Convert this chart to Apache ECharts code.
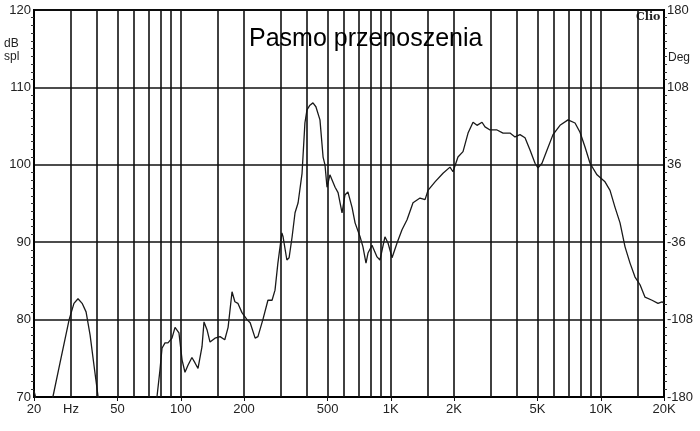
<!DOCTYPE html>
<html>
<head>
<meta charset="utf-8">
<script src="https://cdn.jsdelivr.net/npm/echarts@6/dist/echarts.min.js"></script>
<style>
  html, body { margin: 0; background: #fff; }
  #chart { width: 700px; height: 431px; }
</style>
</head>
<body>
<div id="chart"></div>
<script>
// frequency response (Hz, dB spl)
const freqHz = [
  20, 20.8, 22.5, 24.6, 26.6, 29.4, 31, 32.4, 33.9, 35.4, 37, 38.6, 40.4, 43, 60, 75,
  77, 79.6, 81.4, 84.1, 86.9, 90.8, 93.9, 95.9, 98, 101.4, 104.7, 108.2, 113, 116.9, 120.8,
  126.2, 129, 133.3, 137.8, 145.5, 153.8, 162, 168, 175.4, 181, 187, 195.6, 206.7, 214,
  226, 233, 246, 260, 272, 281, 290, 303, 307, 320, 328, 339, 350, 362, 378, 390, 399,
  412, 426, 440, 460, 476, 486, 497, 513, 543, 561, 586, 605, 625, 654, 676, 714, 737,
  762, 779, 814, 860, 888, 938, 970, 1014, 1071, 1131, 1195, 1276, 1378, 1456, 1504,
  1624, 1773, 1914, 1978, 2089, 2208, 2333, 2464, 2574, 2719, 2810, 2969, 3206, 3424,
  3696, 3904, 4124, 4357, 4603, 4862, 5024, 5248, 5548, 5922, 6395, 6982, 7540, 7962,
  8412, 8887, 9594, 10473, 11066, 11690, 12350, 13046, 13780, 14556, 15378, 16242,
  17542, 18728, 19568, 20000
];
const splDb = [
  70.8, 69, 66, 70, 74.4, 80, 82.1, 82.7, 82.1, 81, 78, 74.1, 70, 65, 62, 65,
  70, 73.5, 76.3, 77.0, 77.0, 77.6, 79.0, 79.2, 78.3, 74.8, 73.2, 74.1, 75.1, 74.4, 73.7,
  76.5, 79.7, 78.7, 77.1, 77.6, 77.8, 77.4, 79.0, 83.6, 82.3, 82.1, 80.9, 80.0, 79.6,
  77.6, 77.8, 80.0, 82.5, 82.5, 83.8, 87.3, 91.2, 90.7, 87.7, 88.0, 90.7, 93.8, 95.1, 98.9, 105.4, 107.1,
  107.7, 108.0, 107.5, 105.8, 101.0, 100.0, 97.1, 98.7, 97.1, 96.4, 93.8, 96.1, 96.5, 94.5, 92.5, 90.7, 89.4,
  87.3, 88.6, 89.6, 88.1, 87.7, 90.7, 89.9, 88.0, 89.9, 91.6, 92.9, 95.1, 95.7, 95.5, 96.7,
  97.8, 98.9, 99.7, 99.1, 101.0, 101.7, 104.1, 105.5, 105.1, 105.5, 104.9, 104.5, 104.5, 104.1,
  104.1, 103.6, 103.9, 103.5, 101.9, 100.2, 99.6, 100.2, 101.9, 103.9, 105.1, 105.8, 105.4, 104.2,
  102.3, 100.2, 98.7, 97.8, 96.7, 94.5, 92.5, 89.4, 87.3, 85.5, 84.5, 82.9,
  82.5, 82.1, 82.3, 82.1
];

// vertical grid lines of the log frequency axis
const gridFreqs = [30, 40, 50, 60, 70, 80, 90, 100, 150, 200, 300, 400, 500, 600, 700, 800, 900,
  1000, 1500, 2000, 3000, 4000, 5000, 6000, 7000, 8000, 9000, 10000, 15000];
const labelFreqs = [20, 30, 50, 100, 200, 500, 1000, 2000, 5000, 10000, 20000];
const tickFreqs = [20, 50, 100, 200, 500, 1000, 2000, 5000, 10000, 20000];
const degLabels = ['-180', '-108', '-36', '36', '108', '180'];

const font = 'Liberation Sans, Arial, sans-serif';
const ink = '#111';

const chart = echarts.init(document.getElementById('chart'));

const fmtFreq = v => {
  if (v === 30) return 'Hz';
  return v >= 1000 ? (v / 1000) + 'K' : String(v);
};

chart.setOption({
  animation: false,
  backgroundColor: '#fff',
  title: {
    text: 'Pasmo przenoszenia',
    left: 244, top: 22,
    textStyle: { fontFamily: font, fontSize: 25, fontWeight: 'normal', color: '#000' }
  },
  graphic: [
    { type: 'text', left: 4, top: 38, style: { text: 'dB', font: '12px ' + font, fill: '#222' } },
    { type: 'text', left: 4, top: 51, style: { text: 'spl', font: '12px ' + font, fill: '#222' } },
    { type: 'text', left: 668, top: 52, style: { text: 'Deg', font: '12px ' + font, fill: '#222' } },
    { type: 'text', left: 636, top: 12, style: { text: 'Clio', font: 'bold 11px DejaVu Serif, serif', fill: '#222' } }
  ],
  grid: {
    left: 34, right: 36, top: 10, bottom: 34,
    show: true, borderColor: '#000', borderWidth: 2
  },
  xAxis: {
    type: 'log', logBase: 10, min: 20, max: 20000,
    axisLine: { show: true, lineStyle: { color: '#000', width: 2 } },
    axisTick: { show: true, customValues: tickFreqs, length: 4, lineStyle: { color: ink } },
    axisLabel: {
      customValues: labelFreqs, formatter: fmtFreq,
      fontFamily: font, fontSize: 13, color: '#222', margin: 6
    },
    splitLine: { show: false },
    minorTick: { show: false }
  },
  yAxis: [
    {
      type: 'value', min: 70, max: 120, interval: 10,
      axisLine: { show: true, lineStyle: { color: '#000', width: 2 } },
      axisTick: { show: false },
      minorTick: { show: true, splitNumber: 10, length: 3, inside: true, lineStyle: { color: '#333' } },
      axisLabel: { fontFamily: font, fontSize: 13, color: '#222', margin: 3 },
      splitLine: { show: true, lineStyle: { color: ink, width: 1.6 } }
    },
    {
      type: 'value', min: 0, max: 5, interval: 1, position: 'right',
      axisLine: { show: true, lineStyle: { color: '#000', width: 2 } },
      axisTick: { show: false },
      minorTick: { show: true, splitNumber: 10, length: 3, inside: true, lineStyle: { color: '#333' } },
      axisLabel: {
        formatter: v => degLabels[v],
        fontFamily: font, fontSize: 13, color: '#222', margin: 3
      },
      splitLine: { show: false }
    }
  ],
  series: [{
    type: 'line',
    data: freqHz.map((f, i) => [f, splDb[i]]),
    showSymbol: false,
    clip: true,
    lineStyle: { color: '#1a1a1a', width: 1.3 },
    markLine: {
      silent: true,
      symbol: 'none',
      label: { show: false },
      lineStyle: { color: ink, width: 1.6, type: 'solid' },
      data: gridFreqs.map(f => ({ xAxis: f }))
    }
  }]
});
</script>
</body>
</html>
